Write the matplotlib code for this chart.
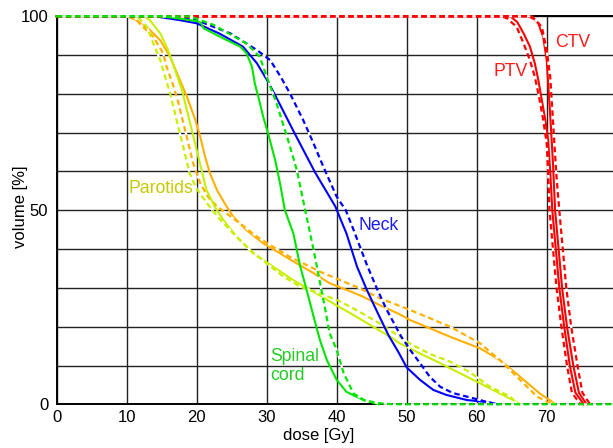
import matplotlib.pyplot as plt

plt.rcParams['font.family'] = ['Liberation Sans', 'DejaVu Sans']

# DVH curves: dose in Gy, volume in %
# parotids (two organs, solid = plan A, dotted = plan B)
orange_dose = [0, 10, 11.4, 13.3, 14.8, 16.2, 17.4, 18.6, 19.8, 20.5, 21.2, 21.9, 22.9, 24.3, 25.2, 27.1,
               29.5, 31.9, 34.3, 36.7, 39.0, 41.4, 43.8, 46.2, 49.0, 50.5, 53.3, 56.2, 60.5, 63.3, 66.2, 69.0, 70.5, 71.2]
orange_vol = [100, 100, 99, 96.5, 93.8, 89.6, 84.4, 79.3, 73.3, 69, 63.8, 59.5, 55.2, 50.9, 48.4, 44.9,
              41.5, 38.9, 36.3, 33.8, 31.2, 29.5, 27.7, 25.5, 23.2, 21.7, 19.6, 17.4, 14.4, 11.4, 7.1, 2.8, 1.0, 0]
orange_dot_dose = [0, 11, 11.9, 13.8, 15.2, 15.7, 16.7, 17.4, 18.1, 18.8, 19.5, 20.5, 21.6, 22.9, 26.2, 28.6,
                   30.9, 33.3, 35.7, 37.6, 40.5, 43.3, 46.2, 50.5, 53.3, 56.2, 60.5, 63.3, 66.2, 68.6, 70.0, 71.0]
orange_dot_vol = [100, 100, 98, 94.7, 90.5, 87, 81.9, 77.6, 72.4, 67.3, 62.1, 57, 53.5, 51, 46.6, 43.2,
                  40.6, 38, 35.9, 34.2, 32, 29.9, 27.3, 24.3, 22.2, 20, 15.7, 11.4, 6.3, 2, 0.7, 0]

yellow_dose = [0, 12.5, 13.3, 14.8, 15.9, 16.9, 17.9, 18.6, 19.3, 20.0, 20.7, 21.4, 22.6, 23.8, 25.7, 28.1,
               30.9, 33.8, 36.7, 39.5, 42.4, 45.2, 48.0, 49.0, 51.9, 54.8, 57.6, 60.5, 63.3, 65.2, 66.2]
yellow_vol = [100, 100, 99, 95.6, 91.3, 86.2, 81, 75.8, 70.7, 65.5, 60.4, 55.2, 50.9, 47.5, 43.2, 38.9,
              35.5, 32, 29, 26, 23, 20, 17, 15.7, 13.1, 10.6, 8, 5.4, 2.8, 1.1, 0]
yellow_dot_dose = [0, 11.5, 12.9, 13.8, 14.8, 15.5, 16.2, 16.9, 17.6, 18.3, 19.0, 20.0, 21.4, 22.9, 25.2, 27.6,
                   30.0, 32.4, 34.8, 37.6, 40.5, 43.3, 46.2, 50.5, 53.3, 56.2, 59.0, 61.9, 64.8, 65.8]
yellow_dot_vol = [100, 100, 97.3, 93, 88.7, 84.4, 80.1, 75, 69.8, 64.7, 59.5, 55.5, 52, 48.5, 44.1, 39.8,
                  36.3, 32.9, 30.3, 28.6, 26.5, 23.8, 20.8, 15.6, 13, 11, 8.3, 4.5, 2, 0]

# neck
neck_dose = [0, 14, 17.6, 20, 23.3, 26.6, 28.6, 30.2, 31.2, 34.0, 36.9, 39.8, 41.4, 42.9, 44.3, 46.0,
             47.4, 48.8, 50.0, 51.9, 53.8, 55.7, 58.6, 61.9, 63]
neck_vol = [100, 100, 99, 98.2, 95.5, 92.2, 87.9, 83.1, 79.7, 69.8, 59.8, 51, 44, 35.5, 29.5, 23,
            17.8, 13.5, 9.5, 6.3, 3.7, 2.4, 1.1, 0.5, 0]
neck_dot_dose = [0, 17, 20, 24.8, 28.6, 30.5, 32.0, 33.3, 35.2, 36.7, 38.1, 40.0, 41.3, 42.4, 44.3, 45.7,
                 47.1, 48.3, 49.2, 50.5, 51.9, 53.3, 54.8, 56.6, 60.5, 62.5]
neck_dot_vol = [100, 100, 99, 95.6, 91.3, 88.7, 84.4, 80.2, 73.3, 67.2, 61.2, 53.5, 50, 45, 36, 30,
                24.5, 20.5, 17.5, 14, 10.6, 7.1, 4.5, 2.9, 1.1, 0]

# spinal cord
cord_dose = [0, 15, 17.6, 20.5, 21.0, 23.8, 26.2, 27.1, 27.9, 28.3, 28.8, 29.5, 30.2, 31.2, 31.9, 32.6,
             33.8, 34.8, 35.7, 36.7, 37.6, 38.6, 40.0, 41.4, 43.8, 46.0]
cord_vol = [100, 100, 99.4, 98.6, 96.9, 94.3, 92.2, 90.5, 87, 82.7, 79.3, 74.1, 69.8, 63, 57, 50,
            44.1, 35.5, 29.5, 22.6, 16.6, 11.4, 6.3, 3.2, 1.1, 0]
cord_dot_dose = [0, 19, 22.4, 27.1, 29, 30, 31.4, 32.9, 34.3, 35.5, 36.7, 38.1, 39, 40, 41, 42.4,
                 44, 46, 48, 79.5]
cord_dot_vol = [100, 100, 97.8, 93, 89.6, 84.4, 77.6, 69, 60.4, 50, 39.8, 26.9, 18.3, 14, 8, 2.8,
                1, 0.3, 0, 0]

# targets
ptv_dose = [0, 64.8, 65.8, 66.7, 67.6, 68.3, 68.8, 69.3, 69.8, 70.2, 70.5, 70.8, 71.3, 71.8, 72.5, 73.3, 74.1, 75.3]
ptv_vol = [100, 100, 98.5, 95.6, 92.2, 87.9, 83.6, 78.4, 73.3, 68.1, 60, 50, 40, 30, 20, 10, 3, 0]
ptv_dot_dose = [0, 63.5, 64.3, 65.7, 66.7, 67.6, 68.3, 68.9, 69.5, 70.0, 70.2, 70.4, 70.9, 71.4, 72.1, 72.9, 73.6, 74.8]
ptv_dot_vol = [100, 100, 99.5, 97.3, 93, 88.7, 84.4, 79.3, 73.3, 67.2, 60, 50, 40, 30, 20, 10, 3, 0]
ctv_dose = [0, 67.3, 68.2, 68.8, 69.5, 70.0, 70.3, 70.6, 70.9, 71.2, 71.7, 72.2, 72.9, 73.8, 74.6, 75.7]
ctv_vol = [100, 100, 99.3, 98.2, 94.7, 88.7, 80.2, 71.5, 62, 50, 40, 30, 20, 10, 3, 0]
ctv_dot_dose = [0, 67.9, 69.3, 70.0, 70.5, 70.8, 71.1, 71.4, 71.8, 72.3, 72.8, 73.5, 74.4, 75.1, 76.2]
ctv_dot_vol = [100, 100, 97.3, 91.3, 84.4, 75.9, 67.2, 58.7, 50, 40, 30, 20, 10, 3, 0]

x_ticks = [0, 10, 20, 30, 40, 50, 60, 70]
y_ticks = [0, 10, 20, 30, 40, 50, 60, 70, 80, 90, 100]
y_labels = ['0', '', '', '', '', '50', '', '', '', '', '100']

ORANGE = '#ffb000'
YELLOW = '#c6f000'
BLUE = '#0000ff'
GREEN = '#00e600'
RED = '#ff0000'

fig = plt.figure(figsize=(6.13, 4.48), dpi=100)
ax = fig.add_axes([56.7 / 613, 43.7 / 448, (613 - 56.7) / 613, 388 / 448])

dots = (0, (2.5, 1.6))


def curve(x, y, color, dotted=False):
    if dotted:
        ax.plot(x, y, color=color, lw=1.6, ls=dots, gapcolor='white', clip_on=False, zorder=3)
    else:
        ax.plot(x, y, color=color, lw=1.5, clip_on=False, zorder=3)


# draw order matters: green dotted sits on top of everything at 0% and 100%
curve(orange_dose, orange_vol, ORANGE)
curve(orange_dot_dose, orange_dot_vol, ORANGE, True)
curve(yellow_dose, yellow_vol, YELLOW)
curve(yellow_dot_dose, yellow_dot_vol, YELLOW, True)
curve(neck_dose, neck_vol, BLUE)
curve(neck_dot_dose, neck_dot_vol, BLUE, True)
curve(ptv_dose, ptv_vol, RED)
curve(ctv_dose, ctv_vol, RED)
curve(ptv_dot_dose, ptv_dot_vol, RED, True)
curve(ctv_dot_dose, ctv_dot_vol, RED, True)
curve(cord_dose, cord_vol, GREEN)
curve(cord_dot_dose, cord_dot_vol, GREEN, True)

# organ names
ax.text(71.2, 93.2, 'CTV', color='#ff1a1a', fontsize=12.7, va='center')
ax.text(62.4, 85.9, 'PTV', color='#ff1a1a', fontsize=12.7, va='center')
ax.text(43.1, 46, 'Neck', color='#1a1aee', fontsize=12.7, va='center')
ax.text(10.2, 55.5, 'Parotids', color='#c8c800', fontsize=12.7, va='center')
ax.text(30.5, 9.8, 'Spinal\ncord', color='#22cc22', fontsize=12.7, va='center', linespacing=1.15)

ax.set_xlim(0, (613 - 56.7) / 7.0)
ax.set_ylim(0, 100)
ax.set_xticks(x_ticks)
ax.set_yticks(y_ticks)
ax.set_yticklabels(y_labels)
ax.tick_params(length=0, labelsize=12)
ax.tick_params(axis='x', pad=4)
ax.tick_params(axis='y', pad=6)

ax.set_axisbelow(True)
ax.grid(True, color='#222222', lw=1.0)
for side in ['left', 'bottom', 'top']:
    ax.spines[side].set_color('black')
    ax.spines[side].set_linewidth(1.4)
ax.spines['right'].set_visible(False)

ax.set_xlabel('dose [Gy]', fontsize=12)
ax.xaxis.set_label_coords(0.47, -0.062)
ax.set_ylabel('volume [%]', fontsize=12)
ax.yaxis.set_label_coords(-0.052, 0.51)

fig.savefig('out.png', dpi=100)
